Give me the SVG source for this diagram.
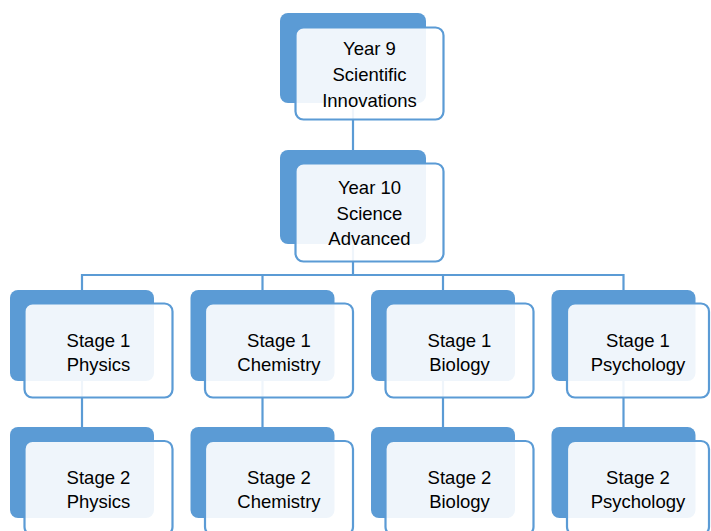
<svg xmlns="http://www.w3.org/2000/svg" width="711" height="531" viewBox="0 0 711 531">
<style>
.back{fill:#5B9BD5;}
.front{fill:#FFFFFF;fill-opacity:0.9;stroke:#5B9BD5;stroke-width:2.2;}
.conn{fill:none;stroke:#5B9BD5;stroke-width:2.2;}
text{font-family:"Liberation Sans",Arial,sans-serif;font-size:18.5px;fill:#000;text-anchor:middle;}
</style>
<rect width="711" height="531" fill="#FFFFFF"/>
<g id="connectors">
<path class="conn" d="M353,103 V150"/>
<path class="conn" d="M353,244 V275"/>
<path class="conn" d="M82,291 V275 H623.5 V291"/>
<path class="conn" d="M262.5,275 V291"/>
<path class="conn" d="M443,275 V291"/>
<path class="conn" d="M82,381 V428"/>
<path class="conn" d="M262.5,381 V428"/>
<path class="conn" d="M443,381 V428"/>
<path class="conn" d="M623.5,381 V428"/>
</g>
<g id="year9">
<rect class="back" x="280" y="13" width="146" height="90" rx="8"/>
<rect class="front" x="295.5" y="27.5" width="148" height="92" rx="8"/>
<text x="369.5" y="55">Year 9</text>
<text x="369.5" y="81">Scientific</text>
<text x="369.5" y="107">Innovations</text>
</g>
<g id="year10">
<rect class="back" x="280" y="150" width="146" height="94" rx="8"/>
<rect class="front" x="295.5" y="163.5" width="148" height="98" rx="8"/>
<text x="369.5" y="194">Year 10</text>
<text x="369.5" y="220">Science</text>
<text x="369.5" y="245">Advanced</text>
</g>
<g id="s1-physics">
<rect class="back" x="10" y="290" width="144" height="91" rx="8"/>
<rect class="front" x="24.5" y="303.5" width="148" height="94" rx="8"/>
<text x="98.5" y="347">Stage 1</text>
<text x="98.5" y="371">Physics</text>
</g>
<g id="s1-chemistry">
<rect class="back" x="190.5" y="290" width="144" height="91" rx="8"/>
<rect class="front" x="205" y="303.5" width="148" height="94" rx="8"/>
<text x="279" y="347">Stage 1</text>
<text x="279" y="371">Chemistry</text>
</g>
<g id="s1-biology">
<rect class="back" x="371" y="290" width="144" height="91" rx="8"/>
<rect class="front" x="385.5" y="303.5" width="148" height="94" rx="8"/>
<text x="459.5" y="347">Stage 1</text>
<text x="459.5" y="371">Biology</text>
</g>
<g id="s1-psychology">
<rect class="back" x="551.5" y="290" width="144" height="91" rx="8"/>
<rect class="front" x="567" y="303.5" width="142" height="94" rx="8"/>
<text x="638" y="347">Stage 1</text>
<text x="638" y="371">Psychology</text>
</g>
<g id="s2-physics">
<rect class="back" x="10" y="427" width="144" height="91" rx="8"/>
<rect class="front" x="24.5" y="441" width="148" height="94" rx="8"/>
<text x="98.5" y="484">Stage 2</text>
<text x="98.5" y="508">Physics</text>
</g>
<g id="s2-chemistry">
<rect class="back" x="190.5" y="427" width="144" height="91" rx="8"/>
<rect class="front" x="205" y="441" width="148" height="94" rx="8"/>
<text x="279" y="484">Stage 2</text>
<text x="279" y="508">Chemistry</text>
</g>
<g id="s2-biology">
<rect class="back" x="371" y="427" width="144" height="91" rx="8"/>
<rect class="front" x="385.5" y="441" width="148" height="94" rx="8"/>
<text x="459.5" y="484">Stage 2</text>
<text x="459.5" y="508">Biology</text>
</g>
<g id="s2-psychology">
<rect class="back" x="551.5" y="427" width="144" height="91" rx="8"/>
<rect class="front" x="567" y="441" width="142" height="94" rx="8"/>
<text x="638" y="484">Stage 2</text>
<text x="638" y="508">Psychology</text>
</g>
</svg>
